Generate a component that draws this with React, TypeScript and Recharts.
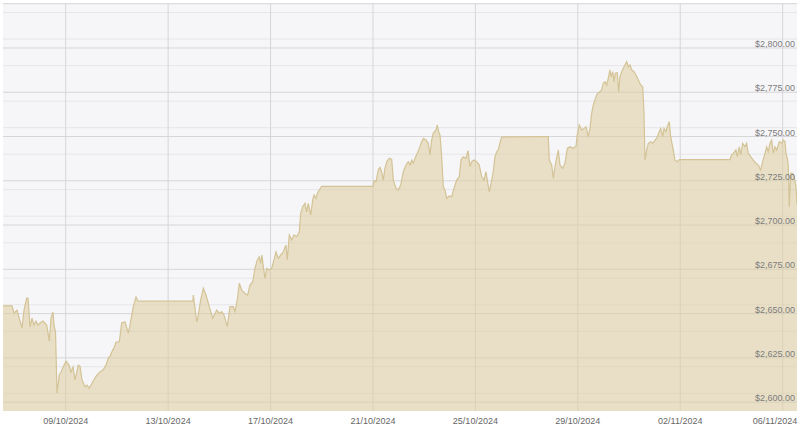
import { AreaChart, Area, XAxis, YAxis, CartesianGrid } from 'recharts'

// days since 06/10/2024 00:00
const dayOffsets = [
  0.551, 0.903, 0.981, 1.098, 1.293, 1.372, 1.477, 1.528, 1.606, 1.684,
  1.762, 1.84, 1.918, 1.996, 2.114, 2.258, 2.36, 2.426, 2.504, 2.543,
  2.602, 2.66, 2.75, 2.817, 2.906, 3.012, 3.129, 3.207, 3.285, 3.363,
  3.492, 3.559, 3.637, 3.754, 3.832, 3.91, 3.988, 4.144, 4.222, 4.34,
  4.457, 4.574, 4.664, 4.73, 4.836, 4.886, 4.964, 5.093, 5.187, 5.316,
  5.445, 5.511, 5.64, 5.745, 5.824, 7.971, 7.983, 8.116, 8.167, 8.272,
  8.374, 8.479, 8.608, 8.741, 8.897, 8.999, 9.092, 9.182, 9.311, 9.416,
  9.545, 9.612, 9.701, 9.779, 9.873, 10.002, 10.107, 10.197, 10.303, 10.392,
  10.482, 10.56, 10.615, 10.666, 10.717, 10.783, 10.85, 10.951, 11.045, 11.135,
  11.213, 11.303, 11.396, 11.498, 11.603, 11.654, 11.732, 11.826, 11.916, 12.021,
  12.123, 12.177, 12.255, 12.345, 12.412, 12.474, 12.568, 12.646, 12.697, 12.775,
  12.825, 12.904, 12.997, 15.001, 15.04, 15.118, 15.208, 15.274, 15.341, 15.403,
  15.469, 15.536, 15.637, 15.731, 15.794, 15.899, 15.989, 16.083, 16.184, 16.29,
  16.379, 16.446, 16.512, 16.575, 16.641, 16.731, 16.809, 16.902, 16.965, 17.07,
  17.16, 17.226, 17.293, 17.355, 17.461, 17.511, 17.566, 17.617, 17.683, 17.746,
  17.812, 17.879, 17.98, 18.074, 18.164, 18.27, 18.371, 18.437, 18.527, 18.633,
  18.711, 18.789, 18.855, 18.945, 19.05, 19.152, 19.245, 19.335, 19.414, 19.464,
  19.542, 19.636, 19.698, 19.765, 19.831, 19.894, 19.96, 20.027, 21.847, 21.886,
  21.98, 22.042, 22.108, 22.237, 22.304, 22.409, 22.499, 22.589, 22.694, 22.799,
  22.928, 22.979, 23.057, 23.151, 23.241, 23.319, 23.408, 23.475, 23.541, 23.604,
  23.67, 23.736, 23.799, 23.865, 23.932, 23.994, 24.061, 24.127, 24.19, 24.256,
  24.295, 24.362, 24.413, 24.463, 24.541, 24.596, 24.647, 24.713, 24.776, 24.842,
  24.909, 24.971, 25.037, 25.104, 25.194, 25.272, 25.362, 25.456, 25.534, 25.585,
  25.623, 25.69, 25.752, 25.846, 25.924, 26.014, 26.08, 26.182, 26.237, 26.315,
  26.365, 26.443, 26.494, 26.572, 26.626, 26.705, 26.794, 26.884, 26.962, 28.942,
  29.008, 29.071, 29.176, 29.227, 29.305, 29.36, 29.438, 29.528, 29.594, 29.657,
  29.75, 29.852, 29.957, 30.047, 30.141, 30.219, 30.309, 30.376, 30.438, 30.505,
  30.571, 30.634, 30.7, 30.767, 30.868, 30.962, 31.024, 31.091, 31.13, 31.181,
  31.22, 31.259, 31.313, 31.392, 31.443, 31.521, 31.56,
]

// gold price, USD
const prices = [
  2654.4, 2654.4, 2650.3, 2652.0, 2641.8, 2652.0, 2658.8, 2658.8, 2642.4, 2647.5,
  2643.5, 2645.8, 2643.5, 2644.7, 2645.8, 2643.5, 2634.5, 2647.5, 2650.9, 2643.5,
  2639.6, 2605.1, 2615.3, 2617.0, 2620.0, 2623.2, 2620.9, 2617.0, 2619.8, 2612.5,
  2620.9, 2620.4, 2612.5, 2608.7, 2609.6, 2607.9, 2609.6, 2613.6, 2615.3, 2617.0,
  2618.1, 2620.9, 2624.9, 2626.0, 2629.4, 2630.5, 2633.9, 2634.1, 2644.7, 2645.4,
  2639.0, 2643.5, 2653.9, 2659.4, 2657.0, 2657.0, 2660.5, 2645.4, 2648.2, 2657.7,
  2664.3, 2660.5, 2653.9, 2647.3, 2652.0, 2650.1, 2651.1, 2649.2, 2642.6, 2653.9,
  2653.9, 2651.1, 2657.7, 2667.1, 2663.3, 2661.4, 2660.5, 2666.1, 2668.0, 2675.6,
  2680.3, 2682.1, 2678.4, 2683.1, 2676.5, 2669.9, 2675.6, 2674.6, 2675.6, 2680.3,
  2684.9, 2681.2, 2683.1, 2684.9, 2688.7, 2680.3, 2694.4, 2691.5, 2694.4, 2693.4,
  2696.2, 2706.6, 2710.4, 2712.3, 2707.5, 2712.3, 2705.7, 2714.1, 2717.0, 2715.1,
  2717.9, 2719.8, 2721.8, 2721.8, 2725.0, 2724.5, 2731.1, 2732.6, 2730.1, 2725.4,
  2732.0, 2735.8, 2737.7, 2737.1, 2725.4, 2720.8, 2719.8, 2722.6, 2730.1, 2733.9,
  2735.8, 2733.9, 2736.7, 2734.9, 2737.7, 2740.5, 2743.3, 2747.1, 2749.0, 2748.0,
  2746.2, 2739.6, 2748.0, 2751.8, 2753.7, 2756.5, 2752.7, 2750.9, 2738.6, 2721.7,
  2719.8, 2715.1, 2716.4, 2716.0, 2720.8, 2725.4, 2727.3, 2736.7, 2738.6, 2737.7,
  2742.0, 2733.0, 2735.8, 2736.7, 2735.8, 2733.9, 2727.3, 2725.4, 2730.1, 2725.4,
  2718.8, 2725.4, 2730.1, 2738.6, 2741.4, 2742.4, 2746.2, 2749.7, 2750.0, 2736.7,
  2733.9, 2726.4, 2733.0, 2742.4, 2733.9, 2732.0, 2734.9, 2743.3, 2744.2, 2743.3,
  2744.4, 2750.9, 2756.5, 2753.7, 2754.6, 2755.5, 2749.9, 2754.6, 2763.1, 2767.8,
  2770.6, 2773.5, 2774.8, 2775.3, 2776.3, 2780.1, 2781.0, 2779.1, 2782.9, 2787.6,
  2783.8, 2786.6, 2781.0, 2785.7, 2786.0, 2775.3, 2783.8, 2786.6, 2788.5, 2790.4,
  2792.3, 2789.4, 2790.4, 2787.6, 2786.6, 2784.7, 2781.9, 2779.1, 2778.1, 2763.1,
  2736.7, 2742.4, 2746.2, 2747.1, 2746.2, 2748.0, 2749.0, 2752.7, 2754.6, 2749.9,
  2754.6, 2752.7, 2755.5, 2758.4, 2749.9, 2744.2, 2736.7, 2735.8, 2737.0, 2737.0,
  2739.6, 2740.5, 2742.4, 2738.6, 2744.2, 2739.6, 2746.2, 2744.2, 2746.2, 2740.5,
  2738.6, 2736.7, 2734.9, 2733.9, 2731.1, 2735.8, 2740.5, 2744.2, 2741.4, 2746.2,
  2748.0, 2740.5, 2744.2, 2742.4, 2747.1, 2746.2, 2748.0, 2747.1, 2740.5, 2737.7,
  2733.9, 2710.4, 2729.2, 2729.2, 2727.3, 2721.7, 2711.3,
]

const dateTicks = [3, 7, 11, 15, 19, 23, 27, 31]
const dateLabels = [
  '09/10/2024', '13/10/2024', '17/10/2024', '21/10/2024',
  '25/10/2024', '29/10/2024', '02/11/2024', '06/11/2024',
]

const priceTicks = [2600, 2625, 2650, 2675, 2700, 2725, 2750, 2775, 2800]

const Y_MIN = 2595
const Y_MAX = 2825

const majorLines: number[] = []
const minorLines: number[] = []
for (let v = Y_MIN; v <= Y_MAX; v += 5) {
  if (v % 25 === 0) majorLines.push(v)
  else minorLines.push(v)
}

const data = dayOffsets.map((day, i) => ({ day, price: prices[i] }))

const FONT = '"Liberation Sans", Arial, sans-serif'
const CHART_W = 800
const EDGE = 3

const formatPrice = (v: number) =>
  '$' + v.toLocaleString('en-US', { minimumFractionDigits: 2, maximumFractionDigits: 2 })

// y labels sit just above their grid line, right aligned inside the plot
const PriceTick = (props: any) => {
  const { y, payload } = props
  return (
    <text x={CHART_W - EDGE - 2} y={y - 1} textAnchor="end" fill="#7c7c7c" fontSize={9} fontFamily={FONT}>
      {formatPrice(payload.value)}
    </text>
  )
}

// date labels centred on their line, kept inside the right edge
const DateTick = (props: any) => {
  const { x, y, payload } = props
  const label = dateLabels[dateTicks.indexOf(payload.value)]
  const right = CHART_W - EDGE
  const half = 22
  const cx = Math.min(x, right - half)
  return (
    <text x={cx} y={y + 7} textAnchor="middle" fill="#666" fontSize={9} fontFamily={FONT}>
      {label}
    </text>
  )
}

export default function App() {
  return (
    <div style={{ position: 'absolute', left: 0, top: 0, width: 800, height: 431, background: '#fff' }}>
      <AreaChart width={CHART_W} height={431} data={data} margin={{ top: 3.7, right: EDGE, bottom: 0, left: EDGE }}>
        {/* minor grid + plot background */}
        <CartesianGrid
          fill="#f6f6f8"
          stroke="#e6e6e9"
          strokeWidth={1}
          vertical={false}
          horizontalValues={minorLines}
        />
        {/* major grid */}
        <CartesianGrid
          stroke="#d6d6d8"
          strokeWidth={1}
          horizontalValues={majorLines}
          verticalValues={dateTicks}
        />
        <XAxis
          dataKey="day"
          type="number"
          domain={[0.551, 31.56]}
          allowDataOverflow
          ticks={dateTicks}
          axisLine={false}
          tickLine={false}
          tickSize={6}
          tickMargin={0}
          height={20}
          tick={DateTick}
        />
        <YAxis
          orientation="right"
          mirror
          domain={[Y_MIN, Y_MAX]}
          allowDataOverflow
          ticks={priceTicks}
          axisLine={false}
          tickLine={false}
          width={60}
          tick={PriceTick}
        />
        <Area
          type="linear"
          dataKey="price"
          stroke="#d3c396"
          strokeWidth={1.2}
          fill="#dccc9c"
          fillOpacity={0.55}
          isAnimationActive={false}
          dot={false}
          activeDot={false}
        />
      </AreaChart>
    </div>
  )
}
